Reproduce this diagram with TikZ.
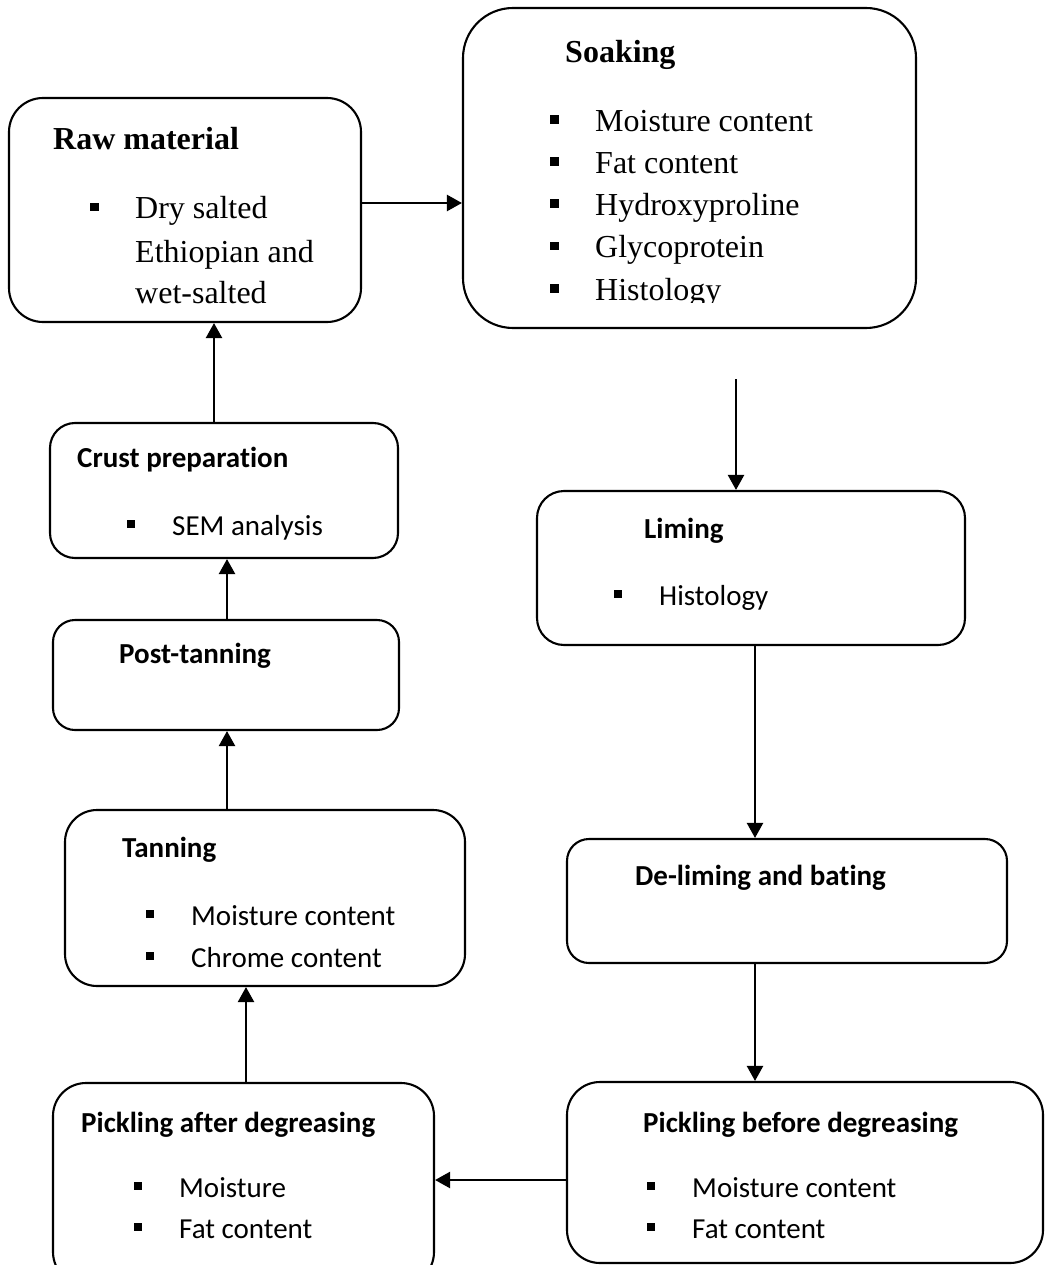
\documentclass[tikz,border=0pt]{standalone}
\usepackage{fontspec}
\usetikzlibrary{arrows.meta}
\newfontfamily\calfont[Ligatures=NoCommon]{Carlito}
\newfontfamily\timesfont{Liberation Serif}
\begin{document}
\begin{tikzpicture}[x=1pt,y=-1pt,
  box/.style={draw, line width=2.1pt, rectangle, inner sep=0pt},
  arr/.style={line width=2.3pt, -{Triangle[length=15pt,width=16pt]}},
  stxt/.style={anchor=base west, inner sep=0pt, font=\calfont\fontsize{29}{35}\selectfont},
  stitle/.style={anchor=base west, inner sep=0pt, font=\calfont\bfseries\fontsize{29}{35}\selectfont},
  rtxt/.style={anchor=base west, inner sep=0pt, font=\timesfont\fontsize{32}{38}\selectfont},
  rtitle/.style={anchor=base west, inner sep=0pt, font=\timesfont\bfseries\fontsize{32}{38}\selectfont}]
\newcommand{\sbul}{\rule[7pt]{8pt}{8pt}\hspace{37pt}}
\newcommand{\rbul}{\rule[7.5pt]{9pt}{9pt}\hspace{36pt}}
\useasboundingbox (0,0) rectangle (1044,1265);
\clip (0,0) rectangle (1044,1265);

% boxes
\node[box, rounded corners=34pt, minimum width=352pt, minimum height=224pt] (raw) at (185,210) {};
\node[box, rounded corners=50pt, minimum width=453pt, minimum height=320pt] (soak) at (689.5,168) {};
\node[box, rounded corners=25pt, minimum width=348pt, minimum height=135pt] (crust) at (224,490.5) {};
\node[box, rounded corners=22pt, minimum width=346pt, minimum height=110pt] (post) at (226,675) {};
\node[box, rounded corners=32pt, minimum width=400pt, minimum height=176pt] (tan) at (265,898) {};
\node[box, rounded corners=27pt, minimum width=428pt, minimum height=154pt] (lime) at (751,568) {};
\node[box, rounded corners=22pt, minimum width=440pt, minimum height=124pt] (delime) at (787,901) {};
\node[box, rounded corners=33pt, minimum width=476pt, minimum height=181pt] (pbefore) at (805,1172.5) {};
\node[box, rounded corners=33pt, minimum width=381pt, minimum height=202pt] (pafter) at (243.5,1184) {};

% texts
\node[rtitle] (rawT) at (53,150) {Raw material};
\node[rtxt] (rawL1) at (90,219) {\rbul Dry salted};
\node[rtxt] (rawL2) at (135,262) {Ethiopian and};
\node[rtxt] (rawL3) at (135,303) {wet-salted};

\node[rtitle] (soakT) at (565,63) {Soaking};
\node[rtxt] (soakL1) at (550,132) {\rbul Moisture content};
\node[rtxt] (soakL2) at (550,174) {\rbul Fat content};
\node[rtxt] (soakL3) at (550,216) {\rbul Hydroxyproline};
\node[rtxt] (soakL4) at (550,258) {\rbul Glycoprotein};
\begin{scope}
\clip (460,270) rectangle (920,302);
\node[rtxt] (soakL5) at (550,300) {\rbul Histology};
\end{scope}

\node[stitle] (crustT) at (77,467) {Crust preparation};
\node[stxt] (crustL1) at (127,535) {\sbul SEM analysis};

\node[stitle] (postT) at (119,663) {Post-tanning};

\node[stitle] (tanT) at (122,857) {Tanning};
\node[stxt] (tanL1) at (146,925) {\sbul Moisture content};
\node[stxt] (tanL2) at (146,967) {\sbul Chrome content};

\node[stitle] (limeT) at (644,538) {Liming};
\node[stxt] (limeL1) at (614,605) {\sbul Histology};

\node[stitle] (delimeT) at (635,885) {De-liming and bating};

\node[stitle] (pbT) at (643,1132) {Pickling before degreasing};
\node[stxt] (pbL1) at (647,1197) {\sbul Moisture content};
\node[stxt] (pbL2) at (647,1238) {\sbul Fat content};

\node[stitle] (paT) at (81,1132) {Pickling after degreasing};
\node[stxt] (paL1) at (134,1197) {\sbul Moisture};
\node[stxt] (paL2) at (134,1238) {\sbul Fat content};

% connectors
\coordinate (ay) at (0,203);
\coordinate (sk) at (736,379);
\coordinate (dx) at (755,0);
\coordinate (py) at (0,1180);
\coordinate (tx) at (246,0);
\coordinate (px) at (227,0);
\coordinate (rx) at (214,0);

\draw[arr] (raw.east |- ay) -- (soak.west |- ay);
\draw[arr] (sk) -- (lime.north -| sk);
\draw[arr] (lime.south -| dx) -- (delime.north -| dx);
\draw[arr] (delime.south -| dx) -- (pbefore.north -| dx);
\draw[arr] (pbefore.west |- py) -- (pafter.east |- py);
\draw[arr] (pafter.north -| tx) -- (tan.south -| tx);
\draw[arr] (tan.north -| px) -- (post.south -| px);
\draw[arr] (post.north -| px) -- (crust.south -| px);
\draw[arr] (crust.north -| rx) -- (raw.south -| rx);
\end{tikzpicture}
\end{document}
